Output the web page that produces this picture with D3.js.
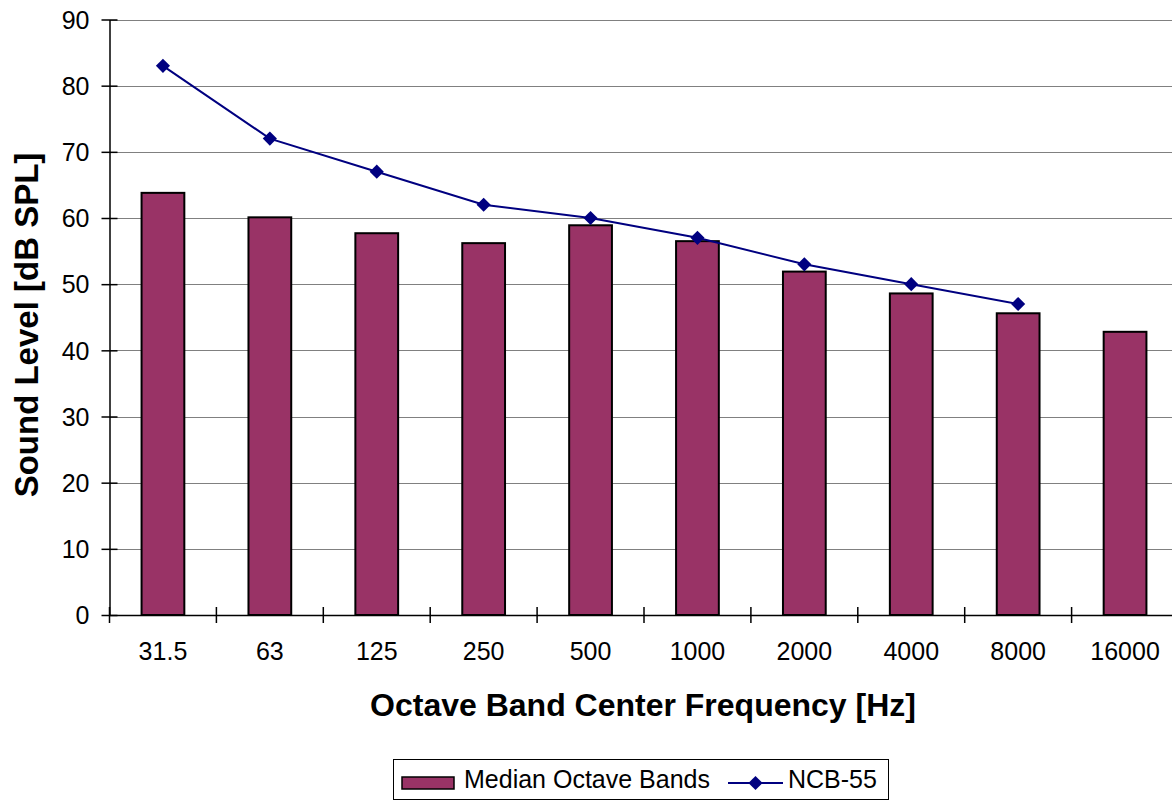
<!DOCTYPE html>
<html>
<head>
<meta charset="utf-8">
<script src="https://cdn.jsdelivr.net/npm/d3@7"></script>
<style>
  html, body { margin: 0; padding: 0; background: #fff; }
  svg { display: block; font-family: "Liberation Sans", Arial, sans-serif; }
</style>
</head>
<body>
<svg id="chart" width="1172" height="804"></svg>
<script>
const categories = ["31.5", "63", "125", "250", "500", "1000", "2000", "4000", "8000", "16000"];
const medianOctaveBands = [63.8, 60.1, 57.7, 56.2, 58.9, 56.5, 51.9, 48.6, 45.6, 42.8];
const ncb55 = [83, 72, 67, 62, 60, 57, 53, 50, 47, null];
const yTicks = [0, 10, 20, 30, 40, 50, 60, 70, 80, 90];

(function () {
const svg = d3.select("#chart");
const pLeft = 109.5, pRight = 1178.5, pTop = 19.5, pBottom = 615;

const xb = d3.scaleBand().domain(categories).range([pLeft, pRight]);
const y = d3.scaleLinear().domain([0, 90]).range([pBottom, pTop]);

// gridlines
svg.append("g").selectAll("line").data(yTicks.filter(d => d > 0)).join("line")
  .attr("x1", pLeft).attr("x2", pRight)
  .attr("y1", d => Math.round(y(d)) + 0.5).attr("y2", d => Math.round(y(d)) + 0.5)
  .attr("stroke", "#808080").attr("stroke-width", 1);

// bars
svg.append("g").selectAll("rect").data(categories).join("rect")
  .attr("x", (d) => xb(d) + xb.bandwidth() * 0.3)
  .attr("width", xb.bandwidth() * 0.4)
  .attr("y", (d, i) => y(medianOctaveBands[i]))
  .attr("height", (d, i) => y(0) - y(medianOctaveBands[i]))
  .attr("fill", "#993366").attr("stroke", "#000").attr("stroke-width", 2);

// y axis
const yAxis = d3.axisLeft(y).tickValues(yTicks).tickSize(0).tickPadding(0).tickFormat(d3.format("d"));
const gy = svg.append("g").attr("transform", `translate(${pLeft},0)`).call(yAxis);
gy.select(".domain").attr("stroke", "#000").attr("stroke-width", 1.5);
gy.selectAll(".tick line").remove();
gy.selectAll(".tick").append("line").attr("x1", -8).attr("x2", 8).attr("stroke", "#000").attr("stroke-width", 1.5);
gy.selectAll(".tick text").attr("x", -20).attr("dy", "0.35em")
  .attr("font-size", 25).attr("fill", "#000").attr("font-family", "Liberation Sans, Arial, sans-serif");

// x axis
const xAxis = d3.axisBottom(xb).tickSize(0).tickPadding(0);
const gx = svg.append("g").attr("transform", `translate(0,${pBottom})`).call(xAxis);
gx.select(".domain").attr("stroke", "#000").attr("stroke-width", 1.5);
gx.selectAll(".tick line").remove();
gx.selectAll(".tick text").attr("y", 45).attr("dy", 0)
  .attr("font-size", 25).attr("fill", "#000").attr("font-family", "Liberation Sans, Arial, sans-serif");
const boundaries = categories.map(c => xb(c)).concat([pRight]);
svg.append("g").selectAll("line").data(boundaries).join("line")
  .attr("x1", d => d).attr("x2", d => d)
  .attr("y1", pBottom - 8).attr("y2", pBottom + 8)
  .attr("stroke", "#000").attr("stroke-width", 1.5);

// line series
const pts = categories.map((c, i) => ({c, v: ncb55[i]})).filter(p => p.v != null);
const line = d3.line().x(p => xb(p.c) + xb.bandwidth() / 2).y(p => y(p.v));
svg.append("path").datum(pts).attr("d", line)
  .attr("fill", "none").attr("stroke", "#000080").attr("stroke-width", 2);
svg.append("g").selectAll("path").data(pts).join("path")
  .attr("transform", p => `translate(${xb(p.c) + xb.bandwidth() / 2},${y(p.v)}) rotate(45)`)
  .attr("d", d3.symbol().type(d3.symbolSquare).size(100)())
  .attr("fill", "#000080");

// axis titles
svg.append("text").attr("x", 643).attr("y", 716)
  .attr("text-anchor", "middle").attr("font-size", 32).attr("font-weight", "bold")
  .text("Octave Band Center Frequency [Hz]");
svg.append("text").attr("transform", `translate(38,325) rotate(-90)`)
  .attr("text-anchor", "middle").attr("font-size", 33).attr("font-weight", "bold")
  .text("Sound Level [dB SPL]");

// legend
const lg = svg.append("g");
lg.append("rect").attr("x", 393.5).attr("y", 759.5).attr("width", 495).attr("height", 40)
  .attr("fill", "#fff").attr("stroke", "#000").attr("stroke-width", 1);
lg.append("rect").attr("x", 402).attr("y", 777).attr("width", 52).attr("height", 12)
  .attr("fill", "#993366").attr("stroke", "#000").attr("stroke-width", 1.5);
lg.append("text").attr("x", 464).attr("y", 788).attr("font-size", 25).text("Median Octave Bands");
lg.append("line").attr("x1", 728).attr("x2", 783).attr("y1", 783).attr("y2", 783)
  .attr("stroke", "#000080").attr("stroke-width", 2);
lg.append("path").attr("transform", "translate(755.5,783) rotate(45)")
  .attr("d", d3.symbol().type(d3.symbolSquare).size(100)()).attr("fill", "#000080");
lg.append("text").attr("x", 788).attr("y", 788).attr("font-size", 25).text("NCB-55");
})();
</script>
</body>
</html>
